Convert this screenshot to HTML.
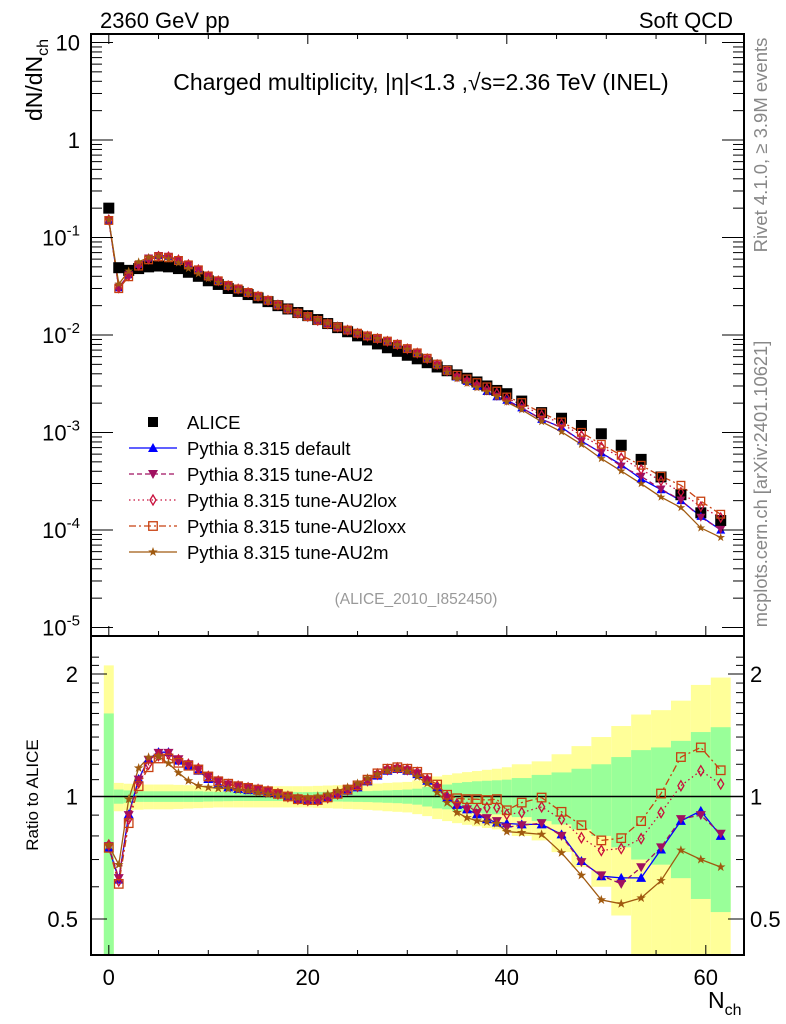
<!DOCTYPE html>
<html><head><meta charset="utf-8">
<style>
html,body{margin:0;padding:0;background:#fff;width:786px;height:1024px;overflow:hidden;}
svg{display:block;font-family:"Liberation Sans",sans-serif;}
</style></head>
<body>
<svg id="chart" width="786" height="1024" viewBox="0 0 786 1024" xmlns="http://www.w3.org/2000/svg">
<text x="100" y="28" font-size="22">2360 GeV pp</text>
<text x="733" y="28" font-size="22" text-anchor="end">Soft QCD</text>
<text x="421" y="90" font-size="23" text-anchor="middle">Charged multiplicity, |η|&lt;1.3 ,√s=2.36 TeV (INEL)</text>
<text x="416" y="604" font-size="15.5" fill="#999" text-anchor="middle">(ALICE_2010_I852450)</text>
<text transform="translate(767,145) rotate(-90)" font-size="18.5" fill="#888" text-anchor="middle">Rivet 4.1.0, ≥ 3.9M events</text>
<text transform="translate(767,484) rotate(-90)" font-size="18.3" fill="#888" text-anchor="middle">mcplots.cern.ch [arXiv:2401.10621]</text>
<text transform="translate(42,80) rotate(-90)" font-size="23" text-anchor="middle">dN/dN<tspan font-size="16" dy="6">ch</tspan></text>
<text transform="translate(38,795) rotate(-90)" font-size="17" text-anchor="middle">Ratio to ALICE</text>
<text x="708" y="1008" font-size="23">N<tspan font-size="16" dy="7">ch</tspan></text>
<g id="g-main"></g>
<g id="g-ratio"></g>
<g id="g-legend"></g>
</svg>
<script>
const xVals = [0,1,2,3,4,5,6,7,8,9,10,11,12,13,14,15,16,17,18,19,20,21,22,23,24,25,26,27,28,29,30,31,32,33,34,35,36,37,38,39,40,41.5,43.5,45.5,47.5,49.5,51.5,53.5,55.5,57.5,59.5,61.5];
const binLo = [-0.5,0.5,1.5,2.5,3.5,4.5,5.5,6.5,7.5,8.5,9.5,10.5,11.5,12.5,13.5,14.5,15.5,16.5,17.5,18.5,19.5,20.5,21.5,22.5,23.5,24.5,25.5,26.5,27.5,28.5,29.5,30.5,31.5,32.5,33.5,34.5,35.5,36.5,37.5,38.5,39.5,40.5,42.5,44.5,46.5,48.5,50.5,52.5,54.5,56.5,58.5,60.5];
const binHi = [0.5,1.5,2.5,3.5,4.5,5.5,6.5,7.5,8.5,9.5,10.5,11.5,12.5,13.5,14.5,15.5,16.5,17.5,18.5,19.5,20.5,21.5,22.5,23.5,24.5,25.5,26.5,27.5,28.5,29.5,30.5,31.5,32.5,33.5,34.5,35.5,36.5,37.5,38.5,39.5,40.5,42.5,44.5,46.5,48.5,50.5,52.5,54.5,56.5,58.5,60.5,62.5];
const aliceVals = [0.20,0.049,0.046,0.048,0.050,0.051,0.050,0.048,0.044,0.040,0.036,0.033,0.030,0.028,0.026,0.024,0.022,0.020,0.0185,0.017,0.0158,0.0144,0.0131,0.0119,0.0108,0.0098,0.0089,0.0081,0.0074,0.0068,0.0062,0.0057,0.0052,0.0047,0.0043,0.0039,0.0036,0.0033,0.0030,0.0027,0.0025,0.0021,0.0016,0.0014,0.00118,0.00097,0.00074,0.00053,0.00035,0.00023,0.00015,0.000125];
const errInner = [0.6,0.04,0.035,0.03,0.03,0.03,0.03,0.03,0.03,0.03,0.028,0.027,0.026,0.025,0.025,0.025,0.025,0.025,0.025,0.025,0.025,0.026,0.027,0.028,0.029,0.03,0.031,0.033,0.035,0.037,0.04,0.045,0.055,0.065,0.07,0.08,0.085,0.09,0.093,0.096,0.10,0.11,0.13,0.146,0.17,0.2,0.25,0.30,0.32,0.37,0.44,0.48];
const errOuter = [1.1,0.08,0.075,0.072,0.07,0.07,0.07,0.068,0.066,0.064,0.062,0.06,0.06,0.06,0.06,0.06,0.06,0.06,0.06,0.06,0.06,0.062,0.064,0.066,0.068,0.07,0.073,0.076,0.08,0.083,0.086,0.095,0.105,0.12,0.13,0.14,0.148,0.155,0.163,0.17,0.18,0.2,0.22,0.27,0.33,0.40,0.49,0.59,0.63,0.72,0.88,0.96];
const ratioDefault = [0.748,0.625,0.904,1.104,1.237,1.285,1.285,1.225,1.191,1.157,1.104,1.073,1.053,1.043,1.037,1.033,1.023,1.013,1.0,0.985,0.979,0.979,0.994,1.013,1.033,1.053,1.089,1.125,1.157,1.168,1.157,1.135,1.093,1.053,0.994,0.954,0.930,0.904,0.879,0.863,0.859,0.854,0.854,0.807,0.694,0.637,0.631,0.631,0.741,0.871,0.922,0.800];
const ratioAU2 = [0.755,0.63,0.90,1.10,1.23,1.28,1.28,1.235,1.20,1.17,1.12,1.09,1.07,1.06,1.05,1.04,1.03,1.015,1.0,0.985,0.979,0.979,0.994,1.013,1.035,1.055,1.09,1.13,1.16,1.17,1.16,1.14,1.095,1.05,0.99,0.95,0.93,0.91,0.885,0.87,0.84,0.85,0.86,0.80,0.69,0.64,0.61,0.67,0.75,0.88,0.90,0.81];
const ratioAU2lox = [0.76,0.62,0.88,1.08,1.20,1.26,1.27,1.23,1.20,1.17,1.12,1.09,1.07,1.06,1.05,1.04,1.03,1.015,1.0,0.985,0.979,0.979,0.994,1.015,1.04,1.06,1.095,1.135,1.165,1.175,1.165,1.145,1.10,1.06,1.0,0.96,0.939,0.93,0.939,0.939,0.904,0.913,0.943,0.879,0.792,0.737,0.745,0.788,0.913,1.063,1.157,1.073];
const ratioAU2loxx = [0.748,0.61,0.86,1.06,1.18,1.24,1.24,1.21,1.19,1.165,1.12,1.09,1.075,1.06,1.05,1.04,1.03,1.015,1.0,0.985,0.98,0.98,0.995,1.015,1.04,1.065,1.10,1.14,1.17,1.18,1.17,1.15,1.11,1.07,1.01,0.99,0.985,0.985,0.98,0.985,0.925,0.966,0.994,0.917,0.85,0.78,0.79,0.87,1.017,1.25,1.32,1.16];
const ratioAU2m = [0.758,0.68,0.985,1.175,1.248,1.253,1.206,1.144,1.093,1.063,1.053,1.047,1.045,1.037,1.033,1.023,1.013,1.008,1.002,0.994,0.994,1.002,1.013,1.033,1.053,1.077,1.110,1.135,1.157,1.168,1.153,1.118,1.077,1.023,0.966,0.913,0.887,0.871,0.866,0.858,0.820,0.815,0.807,0.727,0.640,0.557,0.545,0.563,0.621,0.738,0.700,0.671];
const seriesNames = ['default','tune-AU2','tune-AU2lox','tune-AU2loxx','tune-AU2m'];
const yTickLabelsMain = ['10','1','10^-1','10^-2','10^-3','10^-4','10^-5'];
const ratioTickLabels = ['2','1','0.5'];

const NS='http://www.w3.org/2000/svg';
const L=91, Rr=744, MT=34, MB=636, RB=955;
function X(v){return 108.8+9.95*v;}
function Y(v){return 140-97.5*Math.log10(v);}
function YR(r){return 796.5-122.5*Math.log2(r);}
function mk(tag,attrs,parent){const e=document.createElementNS(NS,tag);for(const k in attrs)e.setAttribute(k,attrs[k]);parent.appendChild(e);return e;}

const svg=document.getElementById('chart');
const defs=mk('defs',{},svg);
const cp1=mk('clipPath',{id:'clipMain'},defs);mk('rect',{x:L,y:MT,width:Rr-L,height:MB-MT},cp1);
const cp2=mk('clipPath',{id:'clipRatio'},defs);mk('rect',{x:L,y:MB,width:Rr-L,height:RB-MB},cp2);

const gMain=document.getElementById('g-main');
const gRatio=document.getElementById('g-ratio');
const gLeg=document.getElementById('g-legend');

const styles=[
 {c:'#0000ff',dash:'',m:'tri'},
 {c:'#a01060',dash:'5,3',m:'tridown'},
 {c:'#c8103c',dash:'1.5,3',m:'diamond'},
 {c:'#c84010',dash:'7,3,2,3',m:'square'},
 {c:'#a05a10',dash:'',m:'star'}];
const ratios=[ratioDefault,ratioAU2,ratioAU2lox,ratioAU2loxx,ratioAU2m];

function marker(g,type,x,y,c,s){
  let e;
  if(type==='tri'){e=mk('polygon',{points:`${x},${y-s} ${x-s},${y+s*0.8} ${x+s},${y+s*0.8}`,fill:c},g);}
  else if(type==='tridown'){e=mk('polygon',{points:`${x},${y+s} ${x-s},${y-s*0.8} ${x+s},${y-s*0.8}`,fill:c},g);}
  else if(type==='diamond'){e=mk('polygon',{points:`${x},${y-s} ${x-s*0.6},${y} ${x},${y+s} ${x+s*0.6},${y}`,fill:'none',stroke:c,'stroke-width':1.3},g);}
  else if(type==='square'){e=mk('rect',{x:x-s*0.85,y:y-s*0.85,width:s*1.7,height:s*1.7,fill:'none',stroke:c,'stroke-width':1.3},g);}
  else if(type==='star'){let p=[];for(let i=0;i<10;i++){const r=i%2?s*0.4:s;const a=-Math.PI/2+i*Math.PI/5;p.push((x+r*Math.cos(a)).toFixed(1)+','+(y+r*Math.sin(a)).toFixed(1));}e=mk('polygon',{points:p.join(' '),fill:c},g);}
  return e;
}

const bandG=mk('g',{'clip-path':'url(#clipRatio)'},gRatio);
for(let i=0;i<xVals.length;i++){
  const x0=X(binLo[i]),x1=X(binHi[i]);
  const yt=YR(1+errOuter[i]), yb=YR(Math.max(1-errOuter[i],0.05));
  const b=mk('rect',{x:x0,y:yt,width:x1-x0,height:yb-yt,fill:'#ffff99'},bandG);
  
  
  const gt=YR(1+errInner[i]), gb=YR(Math.max(1-errInner[i],0.05));
  const b2=mk('rect',{x:x0,y:gt,width:x1-x0,height:gb-gt,fill:'#99ff99'},bandG);
  
  
}
mk('line',{x1:L,x2:Rr,y1:YR(1),y2:YR(1),stroke:'#000','stroke-width':1.5},gRatio);

const mainSeries=mk('g',{'clip-path':'url(#clipMain)'},gMain);
const ratioSeries=mk('g',{'clip-path':'url(#clipRatio)'},gRatio);
for(let s=0;s<5;s++){
  const st=styles[s],rr=ratios[s];
  const ptsM=xVals.map((x,i)=>X(x).toFixed(1)+','+Y(aliceVals[i]*rr[i]).toFixed(1)).join(' ');
  const ptsR=xVals.map((x,i)=>X(x).toFixed(1)+','+YR(rr[i]).toFixed(1)).join(' ');
  const lm=mk('polyline',{points:ptsM,fill:'none',stroke:st.c,'stroke-width':1.3,'stroke-dasharray':st.dash},mainSeries);
  
  
  const lr=mk('polyline',{points:ptsR,fill:'none',stroke:st.c,'stroke-width':1.3,'stroke-dasharray':st.dash},ratioSeries);
  
  
}
for(let i=0;i<xVals.length;i++){
  const q=mk('rect',{x:X(xVals[i])-5.5,y:Y(aliceVals[i])-5.5,width:11,height:11,fill:'#000'},mainSeries);
  
  
}
for(let s=0;s<5;s++){
  const st=styles[s],rr=ratios[s];
  for(let i=0;i<xVals.length;i++){
    const m1=marker(mainSeries,st.m,X(xVals[i]),Y(aliceVals[i]*rr[i]),st.c,4.5);
    
    
    const m2=marker(ratioSeries,st.m,X(xVals[i]),YR(rr[i]),st.c,5);
    
    
  }
}

mk('rect',{x:L,y:MT,width:Rr-L,height:MB-MT,fill:'none',stroke:'#000','stroke-width':2},gMain);
mk('rect',{x:L,y:MB,width:Rr-L,height:RB-MB,fill:'none',stroke:'#000','stroke-width':2},gRatio);

const axM=mk('g',{},gMain);
for(let d=1;d>=-5;d--){
  for(let k=1;k<=9;k++){
    const v=k*Math.pow(10,d-1)*10; const y=Y(v);
    if(y<MT||y>MB)continue;
    const len=k===1?22:11;
    mk('line',{x1:L,x2:L+len,y1:y,y2:y,stroke:'#000','stroke-width':1},axM);
    mk('line',{x1:Rr,x2:Rr-len,y1:y,y2:y,stroke:'#000','stroke-width':1},axM);
  }
}
yTickLabelsMain.forEach((lab,i)=>{
  const y=Y(Math.pow(10,1-i));
  const t=mk('text',{x:80,y:y+8,'font-size':22,'text-anchor':'end'},axM);
  
  
  if(lab.indexOf('^')>=0){const p=lab.split('^');t.textContent=p[0];const ts=mk('tspan',{dy:-10,'font-size':15},t);ts.textContent=p[1];}
  else t.textContent=lab;
});
for(let v=0;v<=60;v+=5){
  const x=X(v),len=v%20===0?10:5;
  mk('line',{x1:x,x2:x,y1:MT,y2:MT+len,stroke:'#000'},axM);
  mk('line',{x1:x,x2:x,y1:MB,y2:MB-len,stroke:'#000'},axM);
  mk('line',{x1:x,x2:x,y1:RB,y2:RB-len,stroke:'#000'},gRatio);
  if(v%20===0){const t=mk('text',{x:x,y:RB+30,'font-size':22,'text-anchor':'middle'},gRatio);t.textContent=String(v);
    
    }
}
[0.4,0.5,0.6,0.7,0.8,0.9,1,1.1,1.2,1.3,1.4,1.5,1.6,1.7,1.8,1.9,2,2.1,2.2].forEach(v=>{
  const y=YR(v); if(y<MB||y>RB)return;
  const len=(v===0.5||v===1||v===2)?16:8;
  mk('line',{x1:L,x2:L+len,y1:y,y2:y,stroke:'#000'},gRatio);
  mk('line',{x1:Rr,x2:Rr-len,y1:y,y2:y,stroke:'#000'},gRatio);
});
[2,1,0.5].forEach((v,i)=>{
  const y=YR(v);
  const t=mk('text',{x:78,y:y+8,'font-size':22,'text-anchor':'end'},gRatio);t.textContent=ratioTickLabels[i];
  
  
  const t2=mk('text',{x:750,y:y+8,'font-size':22},gRatio);t2.textContent=ratioTickLabels[i];
  
  
});

const legTexts=['ALICE','Pythia 8.315 default','Pythia 8.315 tune-AU2','Pythia 8.315 tune-AU2lox','Pythia 8.315 tune-AU2loxx','Pythia 8.315 tune-AU2m'];
legTexts.forEach((txt,i)=>{
  const y=422+i*26;
  const g=mk('g',{},gLeg);
  
  
  if(i===0){mk('rect',{x:148,y:y-5,width:10,height:10,fill:'#000'},g);}
  else{const st=styles[i-1];
    mk('line',{x1:129,x2:177,y1:y,y2:y,stroke:st.c,'stroke-width':1.3,'stroke-dasharray':st.dash},g);
    marker(g,st.m,153,y,st.c,5);}
  const t=mk('text',{x:187,y:y+7,'font-size':18.5},g);t.textContent=txt;
});
</script>
</body></html>
